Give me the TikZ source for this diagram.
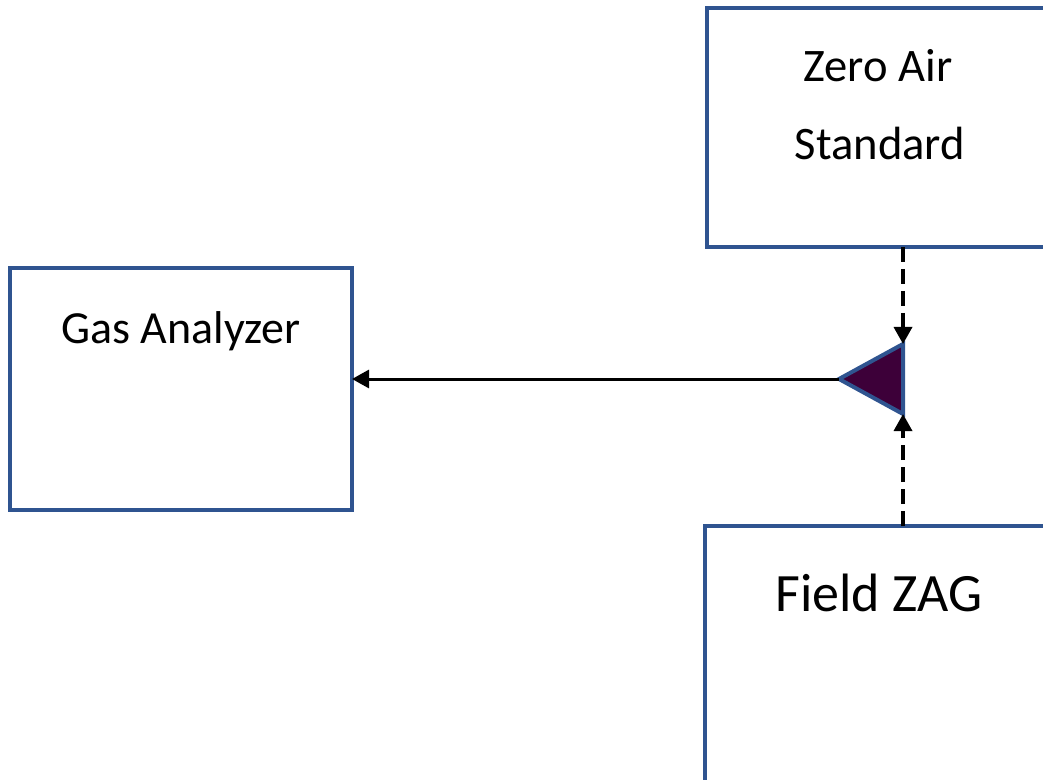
\documentclass[tikz,border=0pt]{standalone}
\usepackage{fontspec}
\setmainfont{Carlito}
\usetikzlibrary{arrows.meta}
\definecolor{boxblue}{HTML}{2F5490}
\definecolor{valvefill}{HTML}{3D0039}
\tikzset{
  unitbox/.style={draw=boxblue, line width=2pt, fill=white},
  label/.style={inner sep=0pt, text=black},
  flow/.style={line width=1.5pt, -{Triangle[length=8.5pt,width=9pt]}},
  dashflow/.style={flow, line width=1.7pt, dash pattern=on 7.5pt off 3.5pt},
}
\begin{document}
\begin{tikzpicture}[x=0.5pt, y=-0.5pt]
  \useasboundingbox (0,0) rectangle (1043,780);
  \clip (0,0) rectangle (1043,780);

  % equipment boxes
  \draw[unitbox] (10,268) rectangle (352,510);
  \draw[unitbox] (707,8) rectangle (1053,247);
  \draw[unitbox] (705,526) rectangle (1053,800);

  \coordinate (ga) at (352,379);
  \coordinate (zaBottom) at (903,247);
  \coordinate (zagTop) at (903,526);

  \node[label, font=\fontsize{23pt}{27pt}\selectfont] (gaText) at (181,331) {Gas Analyzer};
  \node[label, font=\fontsize{23.3pt}{27pt}\selectfont] (zaText1) at (878,66) {Zero Air};
  \node[label, font=\fontsize{23.3pt}{27pt}\selectfont] (zaText2) at (880,143) {Standard};
  \node[label, font=\fontsize{27pt}{31pt}\selectfont] (zagText) at (879,593) {Field ZAG};

  % mixing tee
  \coordinate (apex) at (839,379);
  \coordinate (vTop) at (903,344);
  \coordinate (vBot) at (903,414);
  \draw[draw=boxblue, fill=valvefill, line width=2pt, line join=miter]
    (apex) -- (vTop) -- (vBot) -- cycle;

  % flows
  \draw[flow] (apex) -- (ga);
  \draw[dashflow] (zaBottom) -- (vTop);
  \draw[dashflow] (zagTop) -- (vBot);
\end{tikzpicture}
\end{document}
